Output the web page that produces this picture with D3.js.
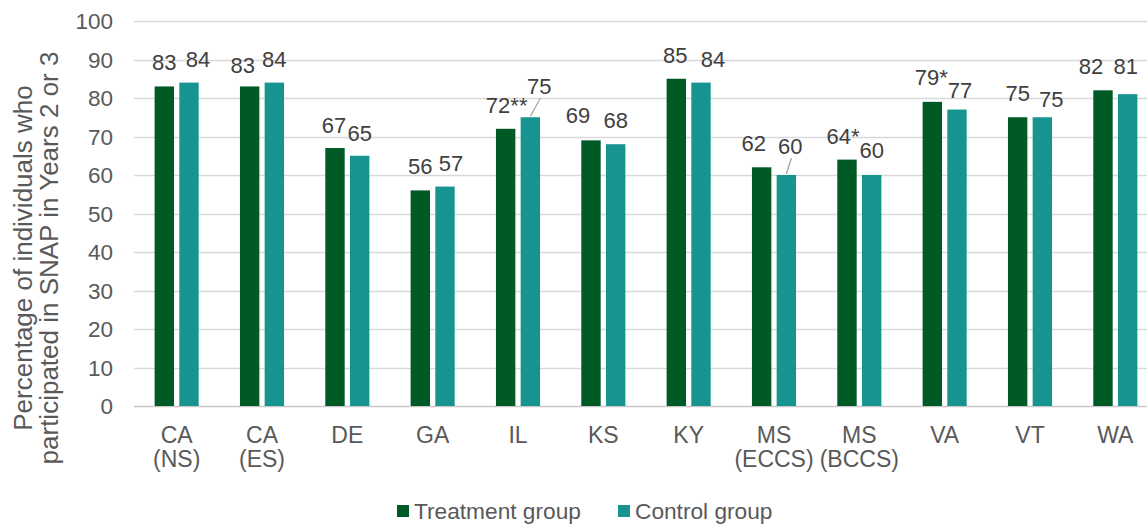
<!DOCTYPE html>
<html>
<head>
<meta charset="utf-8">
<script src="https://cdn.jsdelivr.net/npm/d3@7"></script>
<style>
  body { margin: 0; background: #fff; }
  svg text { font-family: "Liberation Sans", Arial, sans-serif; }
</style>
</head>
<body>
<div id="chart"></div>
<script>
// chart data
const categories = [['CA', '(NS)'], ['CA', '(ES)'], ['DE'], ['GA'], ['IL'], ['KS'], ['KY'],
  ['MS', '(ECCS)'], ['MS', '(BCCS)'], ['VA'], ['VT'], ['WA']];
const treatment = [83, 83, 67, 56, 72, 69, 85, 62, 64, 79, 75, 82];
const control = [84, 84, 65, 57, 75, 68, 84, 60, 60, 77, 75, 81];
const treatmentMarks = ['', '', '', '', '**', '', '', '', '*', '*', '', ''];
const controlMarks = ['', '', '', '', '', '', '', '', '', '', '', ''];
const yTicks = [0, 10, 20, 30, 40, 50, 60, 70, 80, 90, 100];
const seriesNames = ['Treatment group', 'Control group'];

// manual label nudges (like the hand-placed labels in the original)
const treatmentNudge = [[0, 0], [-7, 3], [-1, 1], [0, 0], [1, 0], [-13, -1], [-1, 0],
  [-8, 0], [-4, 0], [-1, -1], [0, 0], [-12, 0]];
const controlNudge = [[9, 0], [0, 0], [0, 1], [6, 0], [9, -7], [0, 0], [12, 0],
  [4, -5], [0, -1], [3, 4], [9, 6], [-2, -4]];
const controlLeader = [false, false, false, false, true, false, false, true, false, false, false, false];

const width = 1147, height = 525;
const margin = {top: 21, left: 134, bottom: 119};
const plotRight = 1158;
const barW = 19.4, barGap = 5.3;
const colors = ['#005a25', '#179490'];
const textColor = '#595959';

const svg = d3.select('#chart').append('svg')
  .attr('width', width)
  .attr('height', height);

const x = d3.scaleBand()
  .domain(d3.range(categories.length))
  .range([margin.left, plotRight]);

const y = d3.scaleLinear()
  .domain([0, 100])
  .range([height - margin.bottom, margin.top]);

// grid
svg.append('g')
  .selectAll('line')
  .data(yTicks)
  .enter().append('line')
  .attr('x1', margin.left)
  .attr('x2', width)
  .attr('y1', d => Math.round(y(d)) + 0.5)
  .attr('y2', d => Math.round(y(d)) + 0.5)
  .attr('stroke', d => d === 0 ? '#c8c8c8' : '#d9d9d9')
  .attr('stroke-width', 1.3);

// y axis
const yAxis = d3.axisLeft(y)
  .tickValues(yTicks)
  .tickSize(0)
  .tickPadding(0);
const gy = svg.append('g')
  .attr('transform', 'translate(113,0)')
  .call(yAxis);
gy.select('.domain').remove();
gy.selectAll('text')
  .attr('font-size', 22.5)
  .attr('fill', textColor)
  .attr('dy', '0.35em');

// y title
const title = svg.append('text')
  .attr('transform', 'translate(0,258) rotate(-90)')
  .attr('text-anchor', 'middle')
  .attr('font-size', 26)
  .attr('fill', textColor);
title.append('tspan').attr('x', 0).attr('y', 32).text('Percentage of individuals who');
title.append('tspan').attr('x', 0).attr('y', 58).text('participated in SNAP in Years 2 or 3');

// bars
const series = [treatment, control];
series.forEach((vals, s) => {
  const offset = s === 0 ? -barGap / 2 - barW : barGap / 2;
  svg.append('g')
    .selectAll('rect')
    .data(vals)
    .enter().append('rect')
    .attr('x', (d, i) => x(i) + x.bandwidth() / 2 + offset)
    .attr('y', d => y(d))
    .attr('width', barW)
    .attr('height', d => y(0) - y(d))
    .attr('fill', colors[s]);
});

// value labels
const barCenter = (i, s) => x(i) + x.bandwidth() / 2 +
  (s === 0 ? -barGap / 2 - barW / 2 : barGap / 2 + barW / 2);

[[treatment, treatmentMarks, treatmentNudge], [control, controlMarks, controlNudge]]
  .forEach(([vals, marks, nudge], s) => {
    const g = svg.append('g');
    vals.forEach((v, i) => {
      const cx = barCenter(i, s) + nudge[i][0];
      const by = y(v) - 16 + nudge[i][1];
      if (s === 1 && controlLeader[i]) {
        g.append('line')
          .attr('x1', barCenter(i, s))
          .attr('y1', y(v) - 1)
          .attr('x2', cx + 1)
          .attr('y2', by + 4)
          .attr('stroke', '#a6a6a6')
          .attr('stroke-width', 1.3);
      }
      g.append('text')
        .attr('x', cx)
        .attr('y', by)
        .attr('text-anchor', 'middle')
        .attr('font-size', 22)
        .attr('fill', '#404040')
        .text(v + marks[i]);
    });
  });

// x labels
const xl = svg.append('g')
  .selectAll('text')
  .data(categories)
  .enter().append('text')
  .attr('text-anchor', 'middle')
  .attr('font-size', 23)
  .attr('fill', textColor);
xl.each(function(d, i) {
  const t = d3.select(this);
  d.forEach((line, k) => {
    t.append('tspan')
      .attr('x', x(i) + x.bandwidth() / 2)
      .attr('y', 443 + k * 24)
      .text(line);
  });
});

// legend
const legendX = [397, 618];
const legend = svg.append('g');
seriesNames.forEach((name, s) => {
  legend.append('rect')
    .attr('x', legendX[s])
    .attr('y', 505)
    .attr('width', 12)
    .attr('height', 12)
    .attr('fill', colors[s]);
  legend.append('text')
    .attr('x', legendX[s] + 17)
    .attr('y', 519)
    .attr('font-size', 22.7)
    .attr('fill', textColor)
    .text(name);
});
</script>
</body>
</html>
